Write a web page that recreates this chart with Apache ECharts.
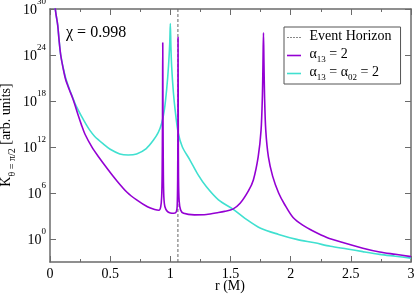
<!DOCTYPE html>
<html><head><meta charset="utf-8">
<script src="https://cdn.jsdelivr.net/npm/echarts@6/dist/echarts.min.js"></script>
<style>html,body{margin:0;padding:0;background:#fff}#c{width:415px;height:294px}</style>
</head><body><div id="c"></div>
<script>
// r values (M) and log10 K values
var rPurple = [0.04,0.05,0.064,0.075,0.089,0.11,0.13,0.16,0.19,0.21,0.235,0.26,0.29,0.35,0.4,0.48,0.55,0.64,0.72,0.81,0.87,0.905,0.92,0.928,0.932,0.935,0.937,0.939,0.942,0.946,0.955,0.975,1.0,1.03,1.05,1.057,1.061,1.063,1.064,1.066,1.068,1.073,1.085,1.11,1.2,1.3,1.4,1.45,1.52,1.58,1.65,1.69,1.73,1.754,1.765,1.77,1.774,1.778,1.783,1.793,1.815,1.85,1.9,1.95,2.02,2.1,2.19,2.3,2.44,2.6,2.74,2.87,3.0];
var expPurple = [30.5,29.3,27.9,26,24,22.2,20.8,19.5,18.3,17.35,16.1,14.95,13.7,11.95,10.8,9.1,7.7,6.1,5.1,4.2,3.85,3.75,4.2,5.5,8.5,16,25.6,16,8.5,5.5,4.2,3.6,3.4,3.35,3.55,4.3,8,15,26.3,15,8,5,3.8,3.35,3.15,3.2,3.45,3.6,3.9,4.65,6.3,7.7,10.7,14.2,18.6,23,26.9,23,18.6,14.2,10.7,8.2,6.0,4.5,2.8,1.8,1.0,0.2,-0.5,-1.2,-1.7,-2.0,-2.3];
var rCyan = [0.04,0.05,0.064,0.075,0.089,0.11,0.13,0.16,0.19,0.21,0.235,0.26,0.3,0.33,0.37,0.45,0.5,0.58,0.65,0.72,0.8,0.86,0.9,0.928,0.95,0.97,0.985,0.995,1.0,1.005,1.011,1.025,1.04,1.066,1.1,1.163,1.23,1.3,1.4,1.52,1.62,1.75,1.9,2.05,2.2,2.33,2.47,2.6,2.74,2.87,3.0];
var expCyan = [30.4,29.3,27.9,26,24,22.3,21,19.6,18.4,17.6,16.8,16.05,14.95,14.2,13.4,12.3,11.7,11.1,10.96,11.1,11.8,12.9,13.9,15.1,16.8,19.6,22.6,25.5,28.1,25,22.5,19.2,16.8,13.8,12,10.3,8.4,6.8,5.1,3.9,2.7,1.4,0.6,-0.05,-0.5,-0.95,-1.3,-1.65,-2.0,-2.25,-2.5];
var horizonR = 1.063;
var xTicks = [0,0.5,1,1.5,2,2.5,3];
var yTickExps = [0,6,12,18,24,30];

var serif = 'Liberation Serif';
function pairs(rs, es){ return rs.map(function(r,i){ return [r, Math.pow(10, es[i])]; }); }
var yMin = 1e-3, yMax = 1e30;
var yTickVals = yTickExps.map(function(e){ return Math.pow(10,e) * 0.99999; });

var axisCol = '#6b6b6b';
function xAx(pos, show){
  return {type:'value', position:pos, min:0, max:3, interval:0.5,
    axisLine:{show:true, onZero:false, lineStyle:{color:axisCol, width:1.5}},
    axisTick:{show:true, inside:true, length:6, lineStyle:{color:axisCol, width:1}},
    minorTick:{show:true, splitNumber:2, length:3, lineStyle:{color:axisCol, width:1}},
    splitLine:{show:false},
    axisLabel:{show:show, color:'#000', fontFamily:serif, fontSize:14, margin:5, hideOverlap:false, showMinLabel:true, showMaxLabel:true}};
}
function yAx(pos, show){
  return {type:'log', logBase:10, position:pos, min:yMin, max:yMax,
    axisLine:{show:true, onZero:false, lineStyle:{color:axisCol, width:1.5}},
    axisTick:{show:true, inside:true, length:6, customValues:yTickVals, lineStyle:{color:axisCol, width:1}},
    splitLine:{show:false}, minorTick:{show:false},
    axisLabel:{show:show, customValues:yTickVals, margin:4, hideOverlap:false, showMinLabel:true, showMaxLabel:true,
      formatter:function(v){ return '{b|10}{s|' + Math.round(Math.log10(v)) + '}'; },
      rich:{b:{fontFamily:serif, fontSize:14, color:'#000', verticalAlign:'bottom', lineHeight:16},
            s:{fontFamily:serif, fontSize:9, color:'#000', verticalAlign:'bottom', lineHeight:9, padding:[0,0,10.5,0]}}}};
}

var solidIcon = 'path://M0,0h14v1.6h-14z';
var dashIcon = 'path://M0,0h2v1h-2zM3,0h2v1h-2zM6,0h2v1h-2zM9,0h2v1h-2zM12,0h2v1h-2z';

var chart = echarts.init(document.getElementById('c'), null, {renderer:'canvas'});
chart.setOption({
  animation:false,
  backgroundColor:'#fff',
  grid:{left:50, right:4, top:9, bottom:32, containLabel:false, outerBoundsMode:'none'},
  xAxis:[xAx('bottom', true), xAx('top', false)],
  yAxis:[yAx('left', true), yAx('right', false)],
  legend:{
    orient:'vertical', left:284, top:27,
    padding:[2,9,2,3], itemGap:1, itemWidth:14, itemHeight:2,
    borderColor:'#555', borderWidth:1, backgroundColor:'#fff', borderRadius:0,
    data:[{name:'Event Horizon', icon:dashIcon, itemStyle:{color:'#888'}},
          {name:'a13', icon:solidIcon},
          {name:'a13a02', icon:solidIcon}],
    formatter:function(n){
      if(n==='a13') return '{t| α}{sub|13}{t| = 2}';
      if(n==='a13a02') return '{t| α}{sub|13}{t| = α}{sub|02}{t| = 2}';
      return '{t| Event Horizon}';
    },
    textStyle:{rich:{t:{fontFamily:serif, fontSize:14, color:'#000', verticalAlign:'bottom', lineHeight:17, padding:[0,0,3,0]},
                     sub:{fontFamily:serif, fontSize:9, color:'#000', verticalAlign:'bottom', lineHeight:9}}}
  },
  graphic:[
    {type:'text', left:66, top:25, style:{text:'χ = 0.998', fontFamily:serif, fontSize:16, fill:'#000'}},
    {type:'text', x:230, y:286, style:{text:'r (M)', fontFamily:serif, fontSize:14, fill:'#000', align:'center', verticalAlign:'middle'}},
    {type:'text', x:9, y:135, rotation:Math.PI/2,
     style:{text:'{k|K}{sub|θ = π/2}{k| [arb. units]}', align:'center', verticalAlign:'middle',
       rich:{k:{fontFamily:serif, fontSize:14, fill:'#000', verticalAlign:'bottom', lineHeight:16, padding:[0,0,4,0]},
             sub:{fontFamily:serif, fontSize:10, fill:'#000', verticalAlign:'bottom', lineHeight:10}}}}
  ],
  series:[
    {name:'Event Horizon', type:'line', symbol:'none', data:[[horizonR,yMin],[horizonR,yMax]],
     lineStyle:{color:'#666', width:1, type:[3,2]}, itemStyle:{color:'#666'}, z:1},
    {name:'a13', type:'line', symbol:'none', smooth:0.3, data:pairs(rPurple, expPurple),
     lineStyle:{color:'#9400d3', width:1.6}, itemStyle:{color:'#9400d3'}, z:3},
    {name:'a13a02', type:'line', symbol:'none', smooth:0.3, data:pairs(rCyan, expCyan),
     lineStyle:{color:'#40e0d0', width:1.6}, itemStyle:{color:'#40e0d0'}, z:2}
  ]
});
</script></body></html>
